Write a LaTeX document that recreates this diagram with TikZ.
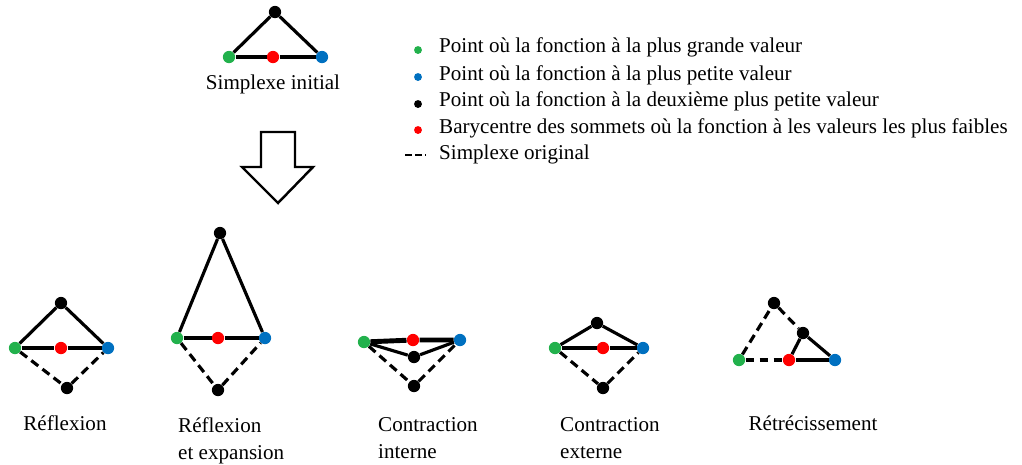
\documentclass[tikz,border=0pt]{standalone}
\usepackage{fontspec}
\setmainfont{Liberation Serif}
\usetikzlibrary{positioning}
\definecolor{ptgreen}{RGB}{34,177,76}
\definecolor{ptblue}{RGB}{0,112,192}
\definecolor{ptred}{RGB}{255,0,0}
\tikzset{
  dot/.style={circle, fill=#1, inner sep=0pt, minimum size=7pt},
  dot/.default=black,
  edge/.style={line width=1.8pt},
  thickedge/.style={line width=2.8pt},
  dashedge/.style={line width=1.8pt, dash pattern=on 5pt off 3pt},
  lbl/.style={font=\fontsize{12}{15.5}\selectfont, align=left}
}
\begin{document}
\begin{tikzpicture}[x=0.02cm, y=-0.02cm]
    \useasboundingbox (0,0) rectangle (1022,464);

    % Initial simplex
    \node[dot] (i1) at (275,12) {};
    \node[dot=ptgreen] (i2) at (229,57) {};
    \node[dot=ptred] (i3) at (273,57) {};
    \node[dot=ptblue] (i4) at (322,57) {};
    \draw[edge] (i2) -- (i1) -- (i4);
    \draw[edge] (i2) -- (i3) -- (i4);
    \node[lbl] (ilbl) at (273,84) {Simplexe initial};

    % Legend
    \node[dot=ptgreen, minimum size=4.5pt] (lg1) at (418,50) {};
    \node[dot=ptblue, minimum size=4.5pt] (lg2) at (418,77) {};
    \node[dot, minimum size=4.5pt] (lg3) at (418,104) {};
    \node[dot=ptred, minimum size=4.5pt] (lg4) at (418,130) {};
    \coordinate (lg5a) at (405,155);
    \coordinate (lg5b) at (426,155);
    \draw[line width=1.3pt, dash pattern=on 3.8pt off 2pt] (lg5a) -- (lg5b);
    \node[lbl, anchor=west] (lt1) at (433,47) {Point où la fonction à la plus grande valeur};
    \node[lbl, anchor=west] (lt2) at (433,75) {Point où la fonction à la plus petite valeur};
    \node[lbl, anchor=west] (lt3) at (433,101) {Point où la fonction à la deuxième plus petite valeur};
    \node[lbl, anchor=west] (lt4) at (433,128) {Barycentre des sommets où la fonction à les valeurs les plus faibles};
    \node[lbl, anchor=west] (lt5) at (433,154) {Simplexe original};

    % Big outlined arrow
    \draw[line width=1.4pt, line join=miter]
        (261,132) -- (295,132) -- (295,167) -- (313,167) -- (278,203)
        -- (242,167) -- (261,167) -- cycle;

    % Reflexion
    \node[dot] (r1) at (61,303) {};
    \node[dot=ptgreen] (r2) at (15,348) {};
    \node[dot=ptred] (r3) at (61,348) {};
    \node[dot=ptblue] (r4) at (108,348) {};
    \node[dot] (r5) at (67,388) {};
    \draw[edge] (r2) -- (r1) -- (r4);
    \draw[edge] (r2) -- (r3) -- (r4);
    \draw[dashedge] (r2) -- (r5) -- (r4);
    \node[lbl] (rlbl) at (65,423) {Réflexion};

    % Reflexion and expansion
    \node[dot] (e1) at (220,233) {};
    \node[dot=ptgreen] (e2) at (177,338) {};
    \node[dot=ptred] (e3) at (218,338) {};
    \node[dot=ptblue] (e4) at (265,338) {};
    \node[dot] (e5) at (218,390) {};
    \draw[edge] (e2) -- (e1) -- (e4);
    \draw[edge] (e2) -- (e3) -- (e4);
    \draw[dashedge] (e2) -- (e5) -- (e4);
    \node[lbl, anchor=north west] (elbl) at (172,411) {Réflexion\\et expansion};

    % Inner contraction
    \node[dot=ptgreen] (c2) at (364,342) {};
    \node[dot=ptred] (c3) at (413,340) {};
    \node[dot=ptblue] (c4) at (460,340) {};
    \node[dot] (c1) at (414,357) {};
    \node[dot] (c5) at (414,386) {};
    \draw[thickedge] (c2) -- (c3) -- (c4);
    \draw[edge] (c2) -- (c1) -- (c4);
    \draw[dashedge] (c2) -- (c5) -- (c4);
    \node[lbl, anchor=north west] (clbl) at (372,411) {Contraction\\interne};

    % Outer contraction
    \node[dot] (x1) at (597,323) {};
    \node[dot=ptgreen] (x2) at (555,348) {};
    \node[dot=ptred] (x3) at (603,348) {};
    \node[dot=ptblue] (x4) at (643,348) {};
    \node[dot] (x5) at (603,388) {};
    \draw[edge] (x2) -- (x1) -- (x4);
    \draw[edge] (x2) -- (x3) -- (x4);
    \draw[dashedge] (x2) -- (x5) -- (x4);
    \node[lbl, anchor=north west] (xlbl) at (554,411) {Contraction\\ externe};

    % Shrink
    \node[dot] (s1) at (774,303) {};
    \node[dot] (s2) at (803,333) {};
    \node[dot=ptgreen] (s3) at (739,360) {};
    \node[dot=ptred] (s4) at (789,360) {};
    \node[dot=ptblue] (s5) at (835,360) {};
    \draw[dashedge] (s3) -- (s1) -- (s2);
    \draw[dashedge] (s3) -- (s4);
    \draw[edge] (s4) -- (s2) -- (s5);
    \draw[thickedge] (s4) -- (s5);
    \node[lbl] (slbl) at (813,423) {Rétrécissement};
\end{tikzpicture}
\end{document}
